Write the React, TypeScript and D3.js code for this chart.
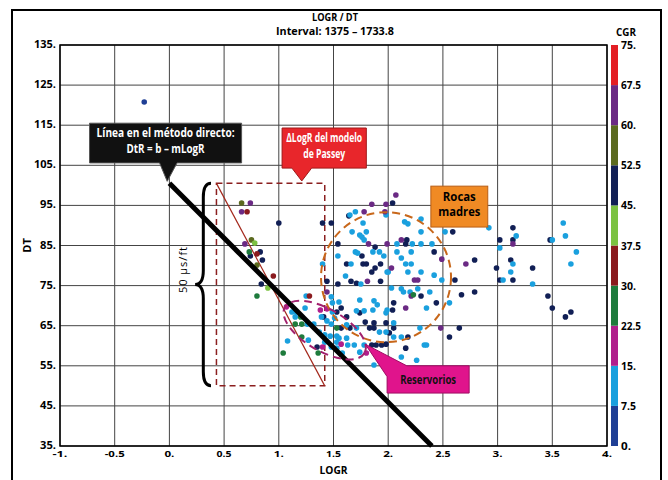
import React from "react";
import * as d3 from "d3";

// CGR classes (colour bar, 7.5 wide each)
const cgrTicks = [0, 7.5, 15, 22.5, 30, 37.5, 45, 52.5, 60, 67.5, 75];
const cgrColors = [
  "#1f3f95", "#1aa0de", "#b01f8c", "#1e7b3c", "#8a1a1e",
  "#7cc242", "#111f55", "#5b6a1f", "#6b2a84", "#e31e24",
];

const xTicks = [-1, -0.5, 0, 0.5, 1, 1.5, 2, 2.5, 3, 3.5, 4];
const yTicks = [35, 45, 55, 65, 75, 85, 95, 105, 115, 125, 135];

// points as [LOGR, DT], grouped by CGR value
const navyPts = [
  [1.0, 90.6], [1.4, 90.6], [1.48, 90.6], [0.83, 83.4], [0.74, 82.4], [0.85, 81.4], [0.84, 75.4],
  [1.64, 92.4], [1.54, 85.4], [1.88, 84.6], [1.76, 82.4], [1.62, 80.4], [1.77, 80.4], [1.8, 80.4],
  [1.93, 80.4], [1.88, 79.4], [1.85, 78.4], [1.66, 76.1], [1.71, 75.6], [1.93, 76.1], [1.54, 75.4],
  [1.44, 76.1], [1.57, 69.4], [1.53, 68.4], [1.41, 67.2], [1.62, 67.2], [1.74, 68.2], [1.57, 64.4],
  [1.65, 64.4], [1.83, 64.4], [1.87, 64.4], [1.87, 65.7], [1.79, 65.9], [1.35, 59.7], [1.85, 60.2],
  [1.89, 60.2], [1.94, 60.2], [2.59, 88.4], [2.17, 86.4], [2.16, 85.4], [2.42, 83.4], [2.79, 81.4],
  [2.61, 76.4], [2.3, 72.4], [2.67, 72.7], [2.79, 73.4], [2.44, 70.7], [2.05, 70.7], [2.04, 68.9],
  [1.98, 65.7], [2.05, 64.4], [2.65, 64.4], [2.18, 62.2], [2.56, 62.2], [1.98, 60.4], [2.16, 59.4],
  [3.14, 89.4], [3.02, 86.4], [3.14, 86.4], [3.48, 86.4], [3.12, 81.4], [2.99, 79.4], [3.32, 79.4],
  [3.02, 76.4], [3.14, 76.4], [3.46, 72.4], [3.5, 69.4], [3.62, 67.2], [3.67, 68.4], [2.01, 63.2],
  [2.04, 95.6],
];
const lightBluePts = [
  [1.25, 72.4], [1.08, 61.2], [1.7, 93.4], [1.77, 90.6], [1.67, 88.4], [1.74, 87.6], [1.8, 88.4],
  [1.76, 87.1], [1.78, 86.4], [1.86, 83.4], [1.92, 83.4], [1.7, 83.4], [1.72, 83.1], [1.96, 82.4],
  [1.54, 82.4], [1.66, 80.4], [1.99, 78.4], [1.61, 77.4], [1.75, 75.4], [1.4, 80.4], [1.48, 72.2],
  [1.49, 70.7], [1.55, 70.9], [1.49, 68.4], [1.12, 68.4], [1.16, 68.4], [1.24, 69.4], [1.15, 67.2],
  [1.39, 67.2], [1.51, 66.9], [1.78, 68.7], [1.86, 68.9], [1.9, 70.2], [1.87, 71.2], [1.74, 71.4],
  [1.71, 68.7], [1.26, 65.4], [1.32, 65.4], [1.44, 66.2], [1.48, 65.4], [1.62, 65.2], [1.71, 64.4],
  [1.92, 63.4], [1.37, 63.4], [1.42, 62.7], [1.47, 62.4], [1.53, 62.4], [1.55, 61.9], [1.62, 61.9],
  [1.27, 61.4], [1.42, 60.9], [1.53, 60.9], [1.63, 60.2], [1.69, 60.2], [1.48, 59.7], [1.53, 59.4],
  [1.58, 58.2], [1.74, 58.4], [1.87, 55.2], [1.98, 92.6], [2.15, 90.9], [2.18, 90.4], [2.3, 91.6],
  [2.3, 88.4], [2.52, 88.4], [2.08, 85.4], [2.22, 85.4], [2.3, 85.4], [2.4, 85.4], [2.08, 83.4],
  [2.21, 83.4], [2.12, 81.9], [2.16, 80.4], [2.21, 80.4], [2.0, 78.4], [2.18, 78.4], [2.3, 78.4],
  [2.42, 77.6], [2.49, 76.4], [2.03, 74.4], [2.12, 74.2], [2.14, 73.4], [2.2, 73.4], [2.27, 74.2],
  [2.38, 73.4], [2.56, 70.7], [1.99, 68.9], [2.35, 69.4], [1.98, 68.2], [2.05, 65.7], [1.98, 63.4],
  [2.29, 64.4], [2.05, 62.2], [2.12, 62.2], [2.33, 60.2], [2.35, 60.2], [2.12, 57.2], [2.26, 56.4],
  [2.92, 89.4], [3.17, 87.4], [3.5, 86.4], [3.6, 90.6], [3.62, 87.4], [3.72, 83.4], [3.02, 84.4],
  [3.14, 80.4], [3.12, 78.4], [3.67, 80.4], [3.05, 76.4], [3.32, 75.4], [1.78, 60.2], [1.65, 92.6],
];
const purplePts = [
  [0.74, 95.6], [0.66, 93.4], [0.69, 85.4], [1.85, 95.3], [1.98, 95.3], [1.78, 93.4], [1.97, 93.4],
  [1.82, 85.4], [1.99, 85.4], [1.81, 76.1], [1.44, 73.4], [2.07, 97.6], [2.12, 86.4], [2.49, 81.6],
  [2.71, 80.4], [2.03, 79.4], [2.24, 76.4], [2.27, 76.4], [2.21, 72.4], [2.16, 69.4], [2.48, 64.4],
  [3.14, 85.4],
];
const darkRedPts = [[0.71, 93.4], [0.8, 82.9], [0.95, 77.4], [1.28, 72.4]];
const greenPts = [
  [0.73, 83.4], [0.8, 72.4], [1.04, 58.2], [1.2, 67.2], [1.15, 65.4], [1.21, 65.4], [1.53, 64.4],
  [1.21, 62.2], [1.36, 58.2], [2.23, 72.7],
];
const magentaPts = [[1.07, 69.7], [1.44, 69.2], [1.38, 68.9], [1.57, 60.4], [1.4, 59.7], [1.8, 58.2]];
const olivePts = [[0.66, 95.6], [0.75, 86.4], [0.8, 80.1]];
const lightGreenPts = [[0.78, 85.6], [0.9, 74.4]];
const lowPts = [[-0.23, 120.8]];

const groups = [
  { cgr: 48, pts: navyPts },
  { cgr: 11, pts: lightBluePts },
  { cgr: 64, pts: purplePts },
  { cgr: 34, pts: darkRedPts },
  { cgr: 26, pts: greenPts },
  { cgr: 18, pts: magentaPts },
  { cgr: 56, pts: olivePts },
  { cgr: 41, pts: lightGreenPts },
  { cgr: 5, pts: lowPts },
];

// direct method line DtR = b - m*LogR
const lineB = 100.5;
const lineM = 27.3;

const font = "'Open Sans', Arial, sans-serif";

// narrow bold text, squeezed to the width it has in the picture
function T({ x, y, w, size = 11, fill = "#000", anchor = "middle", children }: any) {
  return (
    <text x={x} y={y} textAnchor={anchor} fontSize={size} fill={fill} textLength={w} lengthAdjust="spacingAndGlyphs">
      {children}
    </text>
  );
}

export default function App() {
  const x = d3.scaleLinear().domain([-1, 4]).range([60, 607]);
  const y = d3.scaleLinear().domain([35, 135]).range([446, 45]);
  const color = d3.scaleQuantize<string>().domain([0, 75]).range(cgrColors);
  const cbar = d3.scaleLinear().domain([0, 75]).range([446, 45]);

  const fmt = (v: number) => (Number.isInteger(v) ? `${v}.` : `${v}`);

  const line = d3.line<number>().x((d) => x(d)).y((d) => y(lineB - lineM * d));
  const lineEnd = (lineB - 35) / lineM;

  const poly = (pts: number[][]) =>
    "M" + pts.map((p) => `${x(p[0])},${y(p[1])}`).join("L") + "Z";

  // brace
  const bTop = y(100.5), bBot = y(50), bMid = (bTop + bBot) / 2;
  const bxr = x(0.38), bxm = x(0.31), bxl = x(0.235);
  const brace = `M${bxr},${bTop} Q${bxm},${bTop} ${bxm},${bTop + 14} L${bxm},${bMid - 14} Q${bxm},${bMid} ${bxl},${bMid} Q${bxm},${bMid} ${bxm},${bMid + 14} L${bxm},${bBot - 14} Q${bxm},${bBot} ${bxr},${bBot}`;

  return (
    <svg width={668} height={480} style={{ position: "fixed", left: 0, top: 0, background: "#fff" }} fontFamily={font} fontWeight="bold">
      <rect x={12} y={10} width={649} height={480} fill="none" stroke="#000" strokeWidth={2} />
      <T x={335} y={21} w={46} size={10.5}>LOGR / DT</T>
      <T x={335} y={35} w={118} size={10.5}>Interval: 1375 – 1733.8</T>

      {/* grid */}
      {xTicks.map((t) => (
        <line key={"gx" + t} x1={x(t)} x2={x(t)} y1={y(35)} y2={y(135)} stroke="#444" strokeWidth={1} />
      ))}
      {yTicks.map((t) => (
        <line key={"gy" + t} x1={x(-1)} x2={x(4)} y1={y(t)} y2={y(t)} stroke="#444" strokeWidth={1} />
      ))}
      <rect x={x(-1)} y={y(135)} width={x(4) - x(-1)} height={y(35) - y(135)} fill="none" stroke="#000" strokeWidth={1.5} />

      {/* tick labels */}
      {yTicks.map((t) => (
        <T key={"ly" + t} x={56} y={y(t) + 3} w={t > 100 ? 22 : 16} size={10} anchor="end">{fmt(t)}</T>
      ))}
      {xTicks.map((t) => (
        <T key={"lx" + t} x={x(t)} y={y(35) + 11} w={fmt(t).length * 5} size={9.5}>{fmt(t)}</T>
      ))}
      <T x={x(1.5)} y={474} w={28} size={10.5}>LOGR</T>
      <text transform={`translate(31,${y(85)}) rotate(-90)`} textAnchor="middle" fontSize={11}>DT</text>

      {/* colour bar */}
      {cgrColors.map((c, i) => (
        <rect key={"cb" + i} x={611} y={cbar(cgrTicks[i + 1])} width={7} height={cbar(cgrTicks[i]) - cbar(cgrTicks[i + 1])} fill={c} />
      ))}
      {cgrTicks.map((t) => (
        <T key={"ct" + t} x={621} y={cbar(t) + 4} w={fmt(t).length * 5} size={10} anchor="start">{fmt(t)}</T>
      ))}
      <T x={626} y={36} w={20} size={11}>CGR</T>

      {/* dashed rectangle + Passey line */}
      <rect x={x(0.43)} y={y(100.5)} width={x(1.42) - x(0.43)} height={y(50) - y(100.5)} fill="none" stroke="#8b1f1f" strokeWidth={1.5} strokeDasharray="6,4" />
      <line x1={x(0.43)} y1={y(100.5)} x2={x(1.42)} y2={y(50)} stroke="#a3281c" strokeWidth={1.2} />

      {/* points */}
      {groups.map((g) =>
        g.pts.map((p, i) => (
          <circle key={g.cgr + "-" + i} cx={x(p[0])} cy={y(p[1])} r={2.8} fill={color(g.cgr)} />
        ))
      )}

      {/* direct method line */}
      <path d={line([0, lineEnd]) || ""} stroke="#000" strokeWidth={5} fill="none" />

      {/* ellipses */}
      <circle cx={x(1.98)} cy={y(77.1)} r={65} fill="none" stroke="#c8671a" strokeWidth={2} strokeDasharray="8,5" />
      <ellipse cx={0} cy={0} rx={46} ry={21} transform={`translate(${x(1.42)},${y(63.9)}) rotate(30)`} fill="none" stroke="#a2216e" strokeWidth={2} strokeDasharray="8,5" />

      {/* brace */}
      <path d={brace} fill="none" stroke="#000" strokeWidth={3} />
      <text transform={`translate(${x(0.12) + 4},${y(79)}) rotate(-90)`} textAnchor="middle" fontSize={11} fontWeight="normal" letterSpacing={1}>50 µs/ft</text>

      {/* black callout */}
      <path d={poly([[-0.73, 115.5], [0.66, 115.5], [0.66, 105.6], [0.07, 105.6], [-0.02, 101], [-0.09, 105.6], [-0.73, 105.6]])} fill="#111" stroke="#555" strokeWidth={1} />
      <T x={x(-0.035)} y={y(112.1)} w={138} size={12.5} fill="#fff">Línea en el método directo:</T>
      <T x={x(-0.035)} y={y(108.0)} w={78} size={12.5} fill="#fff">DtR = b – mLogR</T>

      {/* red callout */}
      <path d={poly([[1.03, 114.3], [1.8, 114.3], [1.8, 104.3], [1.3, 104.3], [1.21, 101.1], [1.12, 104.3], [1.03, 104.3]])} fill="#e8262b" stroke="#a01818" strokeWidth={1} />
      <T x={x(1.415)} y={y(110.9)} w={76} size={12} fill="#fff">ΔLogR del modelo</T>
      <T x={x(1.415)} y={y(106.9)} w={42} size={12} fill="#fff">de Passey</T>

      {/* orange box */}
      <rect x={x(2.39)} y={y(99.8)} width={x(2.91) - x(2.39)} height={y(89.6) - y(99.8)} fill="#f08a24" stroke="#b85e16" strokeWidth={1} />
      <T x={x(2.65)} y={y(96.2)} w={33} size={11.5}>Rocas</T>
      <T x={x(2.65)} y={y(92.3)} w={42} size={11.5}>madres</T>

      {/* magenta callout */}
      <path d={poly([[1.79, 60.4], [2.17, 55.0], [2.74, 55.0], [2.74, 48.2], [1.99, 48.2], [1.99, 52.3]])} fill="#e0148c" stroke="#a00d64" strokeWidth={1} />
      <T x={x(2.365)} y={y(50.5)} w={56} size={11.5} fill="#111">Reservorios</T>
    </svg>
  );
}
